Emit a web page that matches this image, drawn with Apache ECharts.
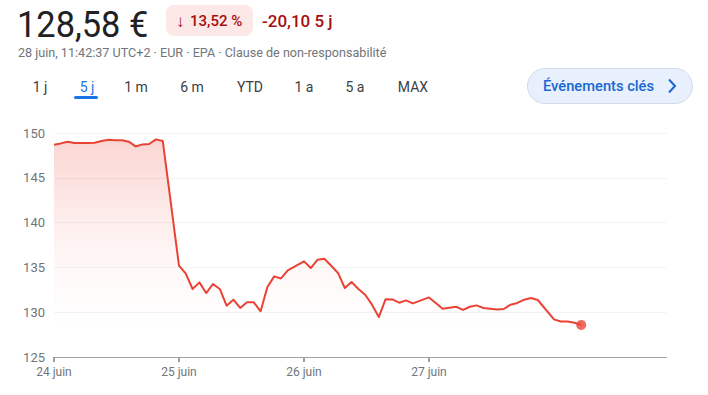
<!DOCTYPE html>
<html>
<head>
<meta charset="utf-8">
<script src="https://cdn.jsdelivr.net/npm/echarts@6/dist/echarts.min.js"></script>
<style>
html,body{margin:0;padding:0;background:#fff;}
#chart{width:708px;height:395px;}
</style>
</head>
<body>
<div id="chart"></div>
<script>
// ---- Data ----
const dayLabels = ['24 juin', '25 juin', '26 juin', '27 juin', '28 juin'];
const shownDays = [0, 1, 2, 3];
const day24 = [148.70, 148.84, 149.03, 148.88, 148.88, 148.88, 148.92, 149.10, 149.25, 149.20, 149.18, 149.03, 148.50, 148.73, 148.77, 149.29, 149.10];
const day25 = [135.19, 134.30, 132.59, 133.33, 132.14, 133.15, 132.59, 130.73, 131.40, 130.47, 131.10, 131.10, 130.10, 132.81, 134.00, 133.77, 134.67];
const day26 = [135.67, 134.93, 135.86, 135.97, 135.19, 134.38, 132.70, 133.37, 132.59, 131.95, 130.84, 129.46, 131.45, 131.43, 131.06, 131.32, 130.98];
const day27 = [131.65, 131.03, 130.39, 130.50, 130.61, 130.25, 130.61, 130.76, 130.47, 130.39, 130.31, 130.36, 130.84, 131.03, 131.40, 131.58, 131.36];
const day28 = [129.20, 128.97, 128.97, 128.83, 128.58];
const yTicks = [125, 130, 135, 140, 145, 150];

const headerPrice = '128,58 €';
const headerArrow = '↓';
const headerChange = '13,52 %';
const headerDelta = '-20,10 5 j';
const headerSub = '28 juin, 11:42:37 UTC+2 · EUR · EPA · Clause de non-responsabilité';
const tabs = ['1 j', '5 j', '1 m', '6 m', 'YTD', '1 a', '5 a', 'MAX'];
const activeTab = 1;
const buttonLabel = 'Événements clés';

// ---- Build series (x = day index + intraday slot position) ----
const SLOT = 0.0544;
const days = [day24, day25, day26, day27, day28];
const lineData = [];
days.forEach((vals, d) => vals.forEach((v, i) => lineData.push([d + i * SLOT, v])));
const last = lineData[lineData.length - 1];

const FONT = 'Roboto, "Noto Sans", sans-serif';
const tabCenters = [40, 87, 136, 192, 250, 304, 355, 413];

const graphics = [
  { type: 'text', scaleX: 0.93, originX: 17, originY: 0, style: { x: 17, y: 6, text: headerPrice, font: '400 37px ' + FONT, fill: '#202124', verticalAlign: 'top' } },
  { type: 'rect', shape: { x: 166, y: 5, width: 87, height: 31, r: 8 }, style: { fill: '#fce8e6' } },
  { type: 'text', style: { x: 176, y: 21, text: headerArrow, font: '500 17px ' + FONT, fill: '#a50e0e', align: 'left', verticalAlign: 'middle' } },
  { type: 'text', style: { x: 190, y: 21, text: headerChange, font: '500 15px ' + FONT, fill: '#a50e0e', align: 'left', verticalAlign: 'middle' } },
  { type: 'text', style: { x: 262, y: 21, text: headerDelta, font: '500 17px ' + FONT, fill: '#a50e0e', align: 'left', verticalAlign: 'middle' } },
  { type: 'text', style: { x: 18, y: 52, text: headerSub, font: '400 12.6px ' + FONT, fill: '#70757a', align: 'left', verticalAlign: 'middle' } },
  { type: 'rect', shape: { x: 74, y: 96, width: 24, height: 3, r: 1.5 }, style: { fill: '#1a73e8' } },
  { type: 'rect', shape: { x: 527.5, y: 68.5, width: 165, height: 35, r: 17.5 }, style: { fill: '#e8f0fe', stroke: '#d2dbe8', lineWidth: 1 } },
  { type: 'text', style: { x: 543, y: 86, text: buttonLabel, font: '500 14.7px ' + FONT, fill: '#1967d2', align: 'left', verticalAlign: 'middle' } },
  { type: 'polyline', shape: { points: [[669, 79.5], [675, 86], [669, 92.5]] }, style: { stroke: '#1967d2', lineWidth: 2, fill: null } }
];
tabs.forEach((t, i) => {
  graphics.push({ type: 'text', style: { x: tabCenters[i], y: 87, text: t, font: '400 14px ' + FONT, fill: i === activeTab ? '#1a73e8' : '#3c4043', align: 'center', verticalAlign: 'middle' } });
});

const chart = echarts.init(document.getElementById('chart'), null, { renderer: 'svg' });
chart.setOption({
  animation: false,
  backgroundColor: '#fff',
  textStyle: { fontFamily: FONT },
  graphic: graphics,
  grid: { left: 54, right: 41.5, top: 133, bottom: 38, containLabel: false },
  xAxis: {
    type: 'value', min: 0, max: 4.9, interval: 1,
    axisLine: { show: true, lineStyle: { color: '#9aa0a6', width: 1 } },
    axisTick: { show: true, customValues: shownDays, length: 5, lineStyle: { color: '#9aa0a6', width: 2 } },
    axisLabel: { customValues: shownDays, color: '#70757a', fontSize: 12, margin: 9, formatter: v => dayLabels[Math.round(v)] },
    splitLine: { show: false }
  },
  yAxis: {
    type: 'value', min: yTicks[0], max: yTicks[yTicks.length - 1], interval: 5,
    axisLine: { show: false }, axisTick: { show: false },
    axisLabel: { color: '#70757a', fontSize: 13, margin: 9 },
    splitLine: { show: true, lineStyle: { color: '#f1f3f4', width: 1 } }
  },
  series: [
    {
      type: 'line', data: lineData, showSymbol: false, symbol: 'none',
      lineStyle: { color: '#ea4335', width: 2, join: 'round' },
      areaStyle: {
        origin: 'start',
        color: new echarts.graphic.LinearGradient(0, 135, 0, 330, [
          { offset: 0, color: 'rgba(234,67,53,0.32)' },
          { offset: 0.45, color: 'rgba(234,67,53,0.13)' },
          { offset: 0.68, color: 'rgba(234,67,53,0.05)' },
          { offset: 1, color: 'rgba(234,67,53,0.0)' }
        ], true)
      },
      z: 3
    },
    {
      type: 'scatter', data: [last], symbol: 'circle', symbolSize: 10,
      itemStyle: { color: '#ea4335' }, z: 4
    }
  ]
});
</script>
</body>
</html>
